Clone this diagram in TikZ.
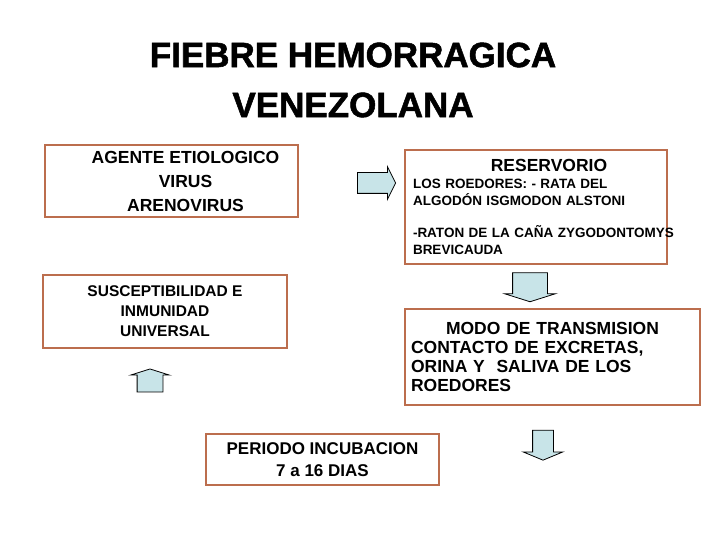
\documentclass[tikz,border=0pt]{standalone}
\usepackage{fontspec}
\setmainfont{Liberation Sans}
\newfontfamily\titlefont[BoldFeatures={FakeBold=1.5}]{Liberation Sans}
\usepackage{tikz}
\usetikzlibrary{positioning,shapes.arrows}

\definecolor{boxline}{RGB}{188,110,78}
\definecolor{arrowfill}{RGB}{200,228,232}

\begin{document}
\begin{tikzpicture}[x=1pt, y=-1pt, font=\bfseries,
  box/.style={draw=boxline, line width=1.3pt, inner sep=0pt, align=center},
  txtbox/.style={draw=boxline, line width=1.3pt, inner ysep=0pt, align=left},
  barrow/.style={single arrow, draw=black, line width=0.8pt, fill=arrowfill},
  harrow/.style={barrow, inner xsep=0pt},
  varrow/.style={barrow, inner ysep=0pt},
]
\useasboundingbox (0,0) rectangle (720,540);

\node[align=center, font=\titlefont\bfseries\fontsize{35}{50}\selectfont] (title) at (353,80)
  {FIEBRE HEMORRAGICA\\VENEZOLANA};

\node[box, minimum width=253pt, minimum height=72pt,
      font=\bfseries\fontsize{17.5}{24}\selectfont] (agente) at (171.5,181)
  {\hspace*{28pt}AGENTE ETIOLOGICO\\\hspace*{28pt}VIRUS\\\hspace*{28pt}ARENOVIRUS};

\node[txtbox, text width=246pt, inner xsep=8pt, minimum height=114pt,
      font=\bfseries\fontsize{13.5}{17}\selectfont] (reserv) at (536,207)
  {{\centering\fontsize{17.5}{21}\selectfont\hspace*{26pt}RESERVORIO\par}
   LOS ROEDORES: - RATA DEL\\
   ALGOD\'ON ISGMODON ALSTONI\\[15pt]
   \mbox{-RATON DE LA CA\~NA ZYGODONTOMYS}\\
   BREVICAUDA};

\node[box, minimum width=244pt, minimum height=73pt,
      font=\bfseries\fontsize{15.5}{20}\selectfont] (suscep) at (165,311.5)
  {SUSCEPTIBILIDAD E\\INMUNIDAD\\UNIVERSAL};

\node[txtbox, text width=283pt, inner xsep=6pt, minimum height=96pt,
      font=\bfseries\fontsize{17.5}{19}\selectfont] (modo) at (552.5,357)
  {{\centering MODO DE TRANSMISION\par}
   CONTACTO DE EXCRETAS,\\
   ORINA Y\ \ SALIVA DE LOS\\
   ROEDORES};

\node[box, minimum width=233pt, minimum height=51pt,
      font=\bfseries\fontsize{17}{22}\selectfont] (periodo) at (322.5,459.5)
  {PERIODO INCUBACION\\7 a 16 DIAS};

\node[harrow, inner ysep=10pt, single arrow head extend=6pt,
      single arrow tip angle=127, minimum height=38pt] (arrRight) at (374,183) {};
\node[varrow, inner xsep=17pt, single arrow head extend=8pt,
      single arrow tip angle=145, minimum height=29pt,
      shape border rotate=270] (arrDown) at (530,284.5) {};
\node[varrow, inner xsep=12.5pt, single arrow head extend=6.5pt,
      single arrow tip angle=145, minimum height=23pt,
      shape border rotate=90] (arrUp) at (150,382.5) {};
\node[varrow, inner xsep=10pt, single arrow head extend=9.5pt,
      single arrow tip angle=135, minimum height=30pt,
      shape border rotate=270] (arrDownB) at (543,443) {};
\end{tikzpicture}
\end{document}
